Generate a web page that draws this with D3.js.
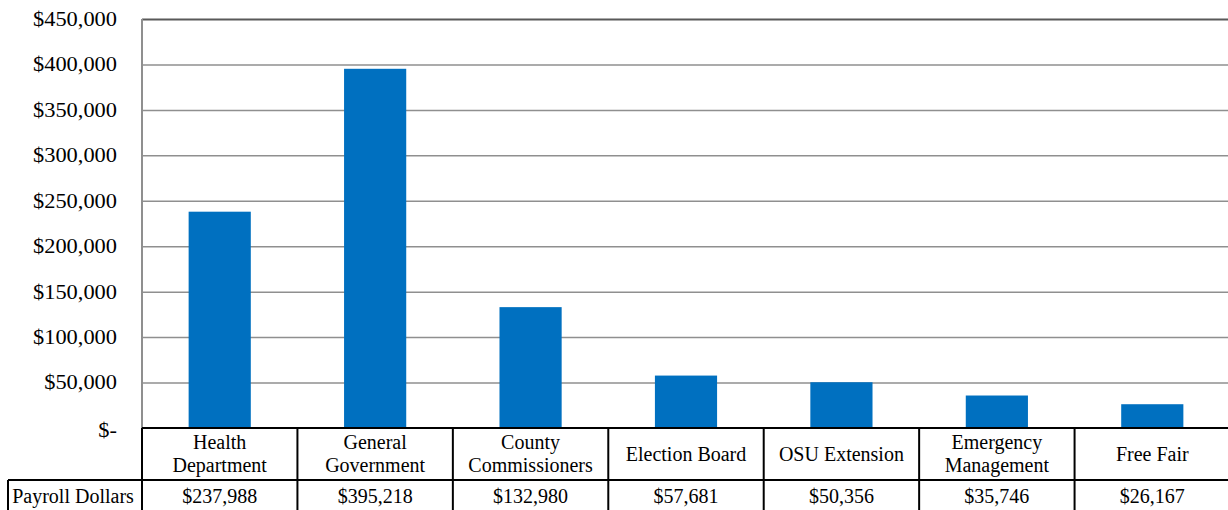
<!DOCTYPE html>
<html>
<head>
<meta charset="utf-8">
<script src="https://cdn.jsdelivr.net/npm/d3@7"></script>
<style>
  html, body { margin: 0; padding: 0; background: #fff; }
  svg { display: block; font-family: "Liberation Serif", "Times New Roman", serif; }
</style>
</head>
<body>
<svg id="chart" width="1228" height="510"></svg>
<script>
// Payroll dollars by department
const categories = [
  ["Health", "Department"],
  ["General", "Government"],
  ["County", "Commissioners"],
  ["Election Board"],
  ["OSU Extension"],
  ["Emergency", "Management"],
  ["Free Fair"]
];
const payroll = [237988, 395218, 132980, 57681, 50356, 35746, 26167];
const rowLabel = "Payroll Dollars";
const yTicks = [0, 50000, 100000, 150000, 200000, 250000, 300000, 350000, 400000, 450000];

const svg = d3.select("#chart");
const plotLeft = 142, plotRight = 1230, plotTop = 19, plotBase = 428;
const headerBottom = 480, tableBottom = 520, rowLeft = 8;

const x = d3.scaleBand().domain(d3.range(categories.length)).range([plotLeft, plotRight]).padding(0);
const y = d3.scaleLinear().domain([0, 450000]).range([plotBase, plotTop]);

const money = d3.format("$,");
const tickFmt = v => v === 0 ? "$-" : money(v);

// gridlines and value axis labels
const yAxis = d3.axisLeft(y).tickValues(yTicks).tickSize(-(1228 - plotLeft)).tickFormat(tickFmt).tickPadding(25);
const gy = svg.append("g").attr("transform", `translate(${plotLeft},0)`).call(yAxis);
gy.select(".domain").remove();
gy.selectAll(".tick line")
  .attr("stroke", d => d === 450000 ? "#595959" : "#8f8f8f")
  .attr("stroke-width", d => d === 450000 ? 2 : 1.5)
  .attr("display", d => d === 0 ? "none" : null);
gy.selectAll(".tick text")
  .attr("font-size", 20)
  .attr("fill", "#000")
  .attr("font-family", "Liberation Serif, serif")
  .attr("dy", d => d === 0 ? "0.42em" : "0.32em")
  .each(function () {
    // axis labels are set a little wider than the table text
    const w = this.getComputedTextLength();
    d3.select(this).attr("textLength", w * 1.12).attr("lengthAdjust", "spacingAndGlyphs");
  });

// left axis line
svg.append("line")
  .attr("x1", plotLeft).attr("x2", plotLeft).attr("y1", plotTop).attr("y2", plotBase)
  .attr("stroke", "#8f8f8f").attr("stroke-width", 2);

// bars
const barW = x.bandwidth() * 0.4;
svg.append("g").selectAll("rect").data(payroll).join("rect")
  .attr("x", (d, i) => x(i) + (x.bandwidth() - barW) / 2)
  .attr("width", barW)
  .attr("y", d => y(d))
  .attr("height", d => plotBase - y(d))
  .attr("fill", "#0070c0");

// data table grid
const tbl = svg.append("g").attr("stroke", "#000").attr("stroke-width", 2).attr("fill", "none");
tbl.append("line").attr("x1", plotLeft).attr("x2", 1228).attr("y1", plotBase).attr("y2", plotBase);
tbl.append("line").attr("x1", rowLeft).attr("x2", 1228).attr("y1", headerBottom).attr("y2", headerBottom);
tbl.append("line").attr("x1", rowLeft).attr("x2", rowLeft).attr("y1", headerBottom).attr("y2", tableBottom);
tbl.selectAll("line.col").data(d3.range(categories.length + 1)).join("line")
  .attr("class", "col")
  .attr("x1", i => i < categories.length ? x(i) : plotRight)
  .attr("x2", i => i < categories.length ? x(i) : plotRight)
  .attr("y1", plotBase).attr("y2", tableBottom);

// table text
const txt = svg.append("g").attr("font-size", 20).attr("fill", "#000").attr("text-anchor", "middle");
categories.forEach((lines, i) => {
  const cx = x(i) + x.bandwidth() / 2;
  const t = txt.append("text").attr("x", cx);
  const y0 = lines.length === 1 ? 461 : 449;
  lines.forEach((ln, k) => {
    t.append("tspan").attr("x", cx).attr("y", y0 + k * 23).text(ln);
  });
});
txt.selectAll("text.val").data(payroll).join("text")
  .attr("class", "val")
  .attr("x", (d, i) => x(i) + x.bandwidth() / 2)
  .attr("y", 503)
  .text(d => money(d));
txt.append("text").attr("x", 73).attr("y", 503).text(rowLabel);
</script>
</body>
</html>
